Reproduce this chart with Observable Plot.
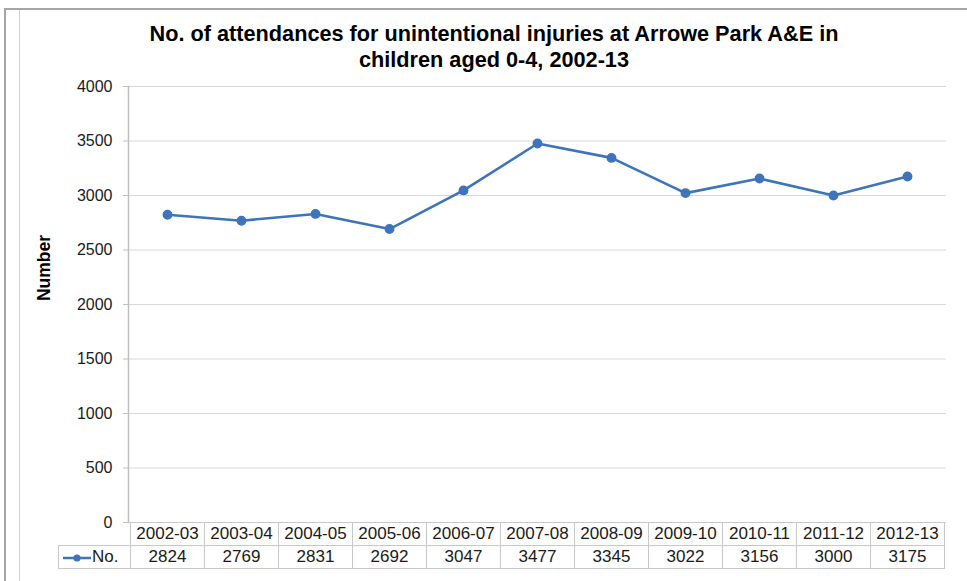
<!DOCTYPE html>
<html>
<head>
<meta charset="utf-8">
<script src="https://cdn.jsdelivr.net/npm/d3@7"></script>
<script src="https://cdn.jsdelivr.net/npm/@observablehq/plot@0.6"></script>
<style>
  body { margin: 0; background: #fff; font-family: "Liberation Sans", Arial, sans-serif; }
  #wrap { position: relative; width: 967px; height: 581px; overflow: hidden; }
  #wrap svg { position: absolute; left: 0; top: 0; }
  .title { position: absolute; left: 24px; width: 940px; top: 21px; text-align: center;
           font-weight: bold; font-size: 21.7px; line-height: 26px; color: #000; }
  .ylabel { position: absolute; left: 44px; top: 268px; transform: translate(-50%, -50%) rotate(-90deg);
            font-weight: bold; font-size: 17.5px; color: #000; white-space: nowrap; }
  .cell { position: absolute; box-sizing: border-box; border: 1px solid #c8c8c8; font-size: 17px;
          text-align: center; color: #1a1a1a; line-height: 21px; white-space: nowrap; }
  .frameT { position: absolute; left: 4px; top: 8px; width: 963px; height: 2px; background: #a6a6a6; }
  .frameL { position: absolute; left: 4px; top: 8px; width: 2px; height: 573px; background: #a6a6a6; }
  .frameI { position: absolute; left: 19px; top: 10px; width: 1px; height: 571px; background: #d0d0d0; }
</style>
</head>
<body>
<div id="wrap">
  <div class="frameT"></div><div class="frameL"></div><div class="frameI"></div>
</div>
<script>
const years = ["2002-03","2003-04","2004-05","2005-06","2006-07","2007-08","2008-09","2009-10","2010-11","2011-12","2012-13"];
const counts = [2824, 2769, 2831, 2692, 3047, 3477, 3345, 3022, 3156, 3000, 3175];
const yTicks = [0, 500, 1000, 1500, 2000, 2500, 3000, 3500, 4000];
const seriesName = "No.";
const titleLines = ["No. of attendances for unintentional injuries at Arrowe Park A&E in", "children aged 0-4, 2002-13"];
const yLabel = "Number";

const data = years.map((y, i) => ({year: y, value: counts[i]}));
const blue = "#3d74bb";

const plot = Plot.plot({
  width: 967,
  height: 581,
  marginLeft: 128,
  marginRight: 21,
  marginTop: 86,
  marginBottom: 59,
  style: {fontFamily: "'Liberation Sans', Arial, sans-serif", fontSize: "16px", color: "#1a1a1a", background: "transparent"},
  x: {type: "point", domain: years, padding: 0.5, axis: null},
  y: {domain: [0, 4000], ticks: yTicks, label: null},
  marks: [
    Plot.gridY(yTicks, {stroke: "#d9d9d9", strokeOpacity: 1}),
    Plot.axisY(yTicks, {tickSize: 5, tickPadding: 11, stroke: "#bfbfbf", fill: "#1a1a1a", fontSize: 16, label: null, tickFormat: d => String(d)}),
    Plot.frame({anchor: "left", stroke: "#bfbfbf", strokeWidth: 1.5}),
    Plot.line(data, {x: "year", y: "value", stroke: blue, strokeWidth: 2.6}),
    Plot.dot(data, {x: "year", y: "value", r: 4.2, fill: blue, stroke: blue})
  ]
});

const wrap = document.getElementById("wrap");
wrap.appendChild(plot);

const title = document.createElement("div");
title.className = "title";
title.innerHTML = titleLines.map(t => t.replace(/&/g, "&amp;")).join("<br>");
wrap.appendChild(title);

const yl = document.createElement("div");
yl.className = "ylabel";
yl.textContent = yLabel;
wrap.appendChild(yl);

// Data table below the plot, aligned with the x scale
const xs = plot.scale("x");
const ys = plot.scale("y");
const step = xs.apply(years[1]) - xs.apply(years[0]);
const top0 = ys.apply(0);
const rowH = 23;
function cell(left, top, w, h, html, extra) {
  const d = document.createElement("div");
  d.className = "cell";
  d.style.left = left + "px"; d.style.top = top + "px";
  d.style.width = (w + 1) + "px"; d.style.height = (h + 1) + "px";
  d.innerHTML = html;
  if (extra) Object.assign(d.style, extra);
  wrap.appendChild(d);
}
years.forEach((y, i) => {
  const left = Math.round(xs.apply(y) - step / 2);
  const right = Math.round(xs.apply(y) + step / 2);
  cell(left, top0, right - left, rowH, y);
  cell(left, top0 + rowH, right - left, rowH, String(counts[i]));
});
const legLeft = 58;
const firstLeft = Math.round(xs.apply(years[0]) - step / 2);
cell(legLeft, top0 + rowH, firstLeft - legLeft, rowH,
  `<svg width="30" height="12" style="vertical-align:middle;margin-right:1px;position:static"><line x1="2" y1="6" x2="30" y2="6" stroke="${blue}" stroke-width="2.5"/><circle cx="16" cy="6" r="3.6" fill="${blue}"/></svg>` + seriesName,
  {textAlign: "left", paddingLeft: "2px"});
</script>
</body>
</html>
